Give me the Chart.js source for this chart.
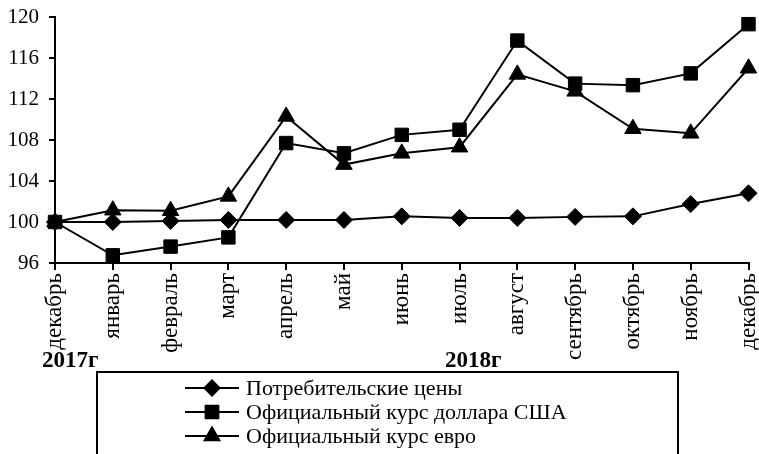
<!DOCTYPE html>
<html>
<head>
<meta charset="utf-8">
<script src="https://cdn.jsdelivr.net/npm/chart.js@4"></script>
<style>
  html,body{margin:0;padding:0;background:#fff}
  #wrap{width:759px;height:454px;position:relative}
</style>
</head>
<body>
<div id="wrap"><canvas id="lineChart" width="759" height="454"></canvas></div>
<script>
const months = ['декабрь','январь','февраль','март','апрель','май','июнь','июль','август','сентябрь','октябрь','ноябрь','декабрь']
const cpi = [100,100,100.1,100.2,100.2,100.2,100.55,100.4,100.4,100.5,100.55,101.75,102.8]
const usd = [100,96.75,97.6,98.5,107.7,106.7,108.5,109,117.7,113.5,113.35,114.5,119.3]
const eur = [100,101.15,101.1,102.5,110.3,105.6,106.7,107.3,114.4,112.75,109.1,108.65,115]
const yTicks = [96,100,104,108,112,116,120]
const years = ['2017г','2018г']
const seriesNames = ['Потребительские цены','Официальный курс доллара США','Официальный курс евро']

const serif = '"Liberation Serif", "Times New Roman", serif'

// legend box + year captions under the axis
const extras = {
  id:'extras',
  afterDraw(chart){
    const ctx = chart.ctx
    ctx.save()
    ctx.fillStyle = '#000'
    ctx.font = 'bold 23px ' + serif
    ctx.textBaseline = 'alphabetic'
    ctx.fillText(years[0], 42, 367)
    ctx.fillText(years[1], 445, 367)

    ctx.strokeStyle = '#000'
    ctx.lineWidth = 2
    ctx.strokeRect(97, 372, 581, 100)

    ctx.font = '22px ' + serif
    ctx.textBaseline = 'middle'
    const rows = [388, 412, 436]
    chart.data.datasets.forEach((ds, i) => {
      const y = rows[i]
      ctx.strokeStyle = '#000'
      ctx.lineWidth = 2
      ctx.beginPath()
      ctx.moveTo(185, y); ctx.lineTo(239, y)
      ctx.stroke()
      ctx.fillStyle = '#000'
      const r = {rectRot: 7.5, rect: 9, triangle: 8.5}[ds.pointStyle]
      Chart.helpers.drawPoint(ctx, {pointStyle: ds.pointStyle, rotation: 0, borderWidth: 1, radius: r}, 212, y)
      ctx.fillStyle = '#000'
      ctx.fillText(ds.label, 246, y + 1)
    })
    ctx.restore()
  }
}

const noPad = s => { s.paddingLeft = 0; s.paddingRight = 0; s.paddingTop = 0; s.paddingBottom = 0 }

new Chart(document.getElementById('lineChart'), {
  type: 'line',
  data: {
    labels: months,
    datasets: [
      {label: seriesNames[0], data: cpi, pointStyle: 'rectRot', pointRadius: 8.5},
      {label: seriesNames[1], data: usd, pointStyle: 'rect', pointRadius: 9.5},
      {label: seriesNames[2], data: eur, pointStyle: 'triangle', pointRadius: 9.5}
    ].map(d => Object.assign(d, {
      borderColor: '#000', backgroundColor: '#000', borderWidth: 2,
      pointBackgroundColor: '#000', pointBorderColor: '#000', pointBorderWidth: 1,
      tension: 0, fill: false, clip: false
    }))
  },
  options: {
    responsive: false,
    animation: false,
    layout: {padding: {top: 17, right: 10, left: 0, bottom: 0}},
    plugins: {legend: {display: false}, tooltip: {enabled: false}},
    scales: {
      x: {
        grid: {drawOnChartArea: false, drawTicks: true, tickLength: 7, color: '#000', lineWidth: 2},
        border: {display: true, color: '#000', width: 2},
        ticks: {color: '#000', font: {family: serif, size: 23}, minRotation: 90, maxRotation: 90, padding: 3, autoSkip: false},
        afterFit(s){ s.height = 191; noPad(s) }
      },
      y: {
        min: 96, max: 120,
        afterBuildTicks(s){ s.ticks = yTicks.map(v => ({value: v})) },
        grid: {drawOnChartArea: false, drawTicks: true, tickLength: 6, color: '#000', lineWidth: 2},
        border: {display: true, color: '#000', width: 2},
        ticks: {color: '#000', font: {family: serif, size: 21}, padding: 10},
        afterFit(s){ s.width = 55; noPad(s) }
      }
    }
  },
  plugins: [extras]
})
</script>
</body>
</html>
